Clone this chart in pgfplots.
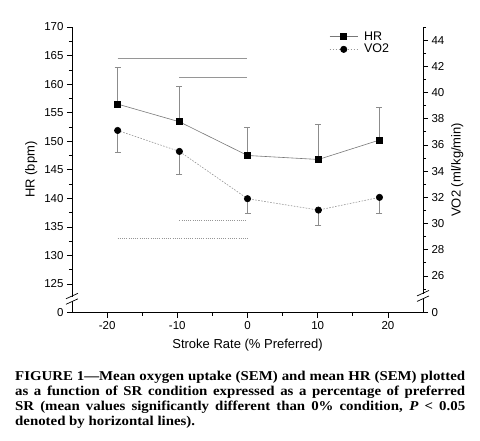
\documentclass[border=0pt]{standalone}
\usepackage{fontspec}
\setmainfont{Liberation Sans}
\newfontfamily\capfont[FakeStretch=1.1]{Liberation Serif}
\usepackage{pgfplots}
\pgfplotsset{compat=1.18}
\definecolor{linegray}{RGB}{120,120,120}
\definecolor{errgray}{RGB}{140,140,140}
\definecolor{siggray}{RGB}{150,150,150}
\pgfplotsset{
  hrstyle/.style={color=linegray, line width=0.6pt, mark=square*, mark size=3pt, mark options={solid, draw=black, fill=black}},
  vostyle/.style={color=siggray, line width=0.6pt, dash pattern=on 1.6pt off 1.4pt, mark=*, mark size=3.2pt, mark options={solid, draw=black, fill=black}},
  common/.style={
    scale only axis, width=351pt, height=285.5pt,
    at={(72pt,127.5pt)}, anchor=south west,
    xmin=-25, xmax=25,
    tick align=outside, major tick length=5pt, minor tick length=3pt,
    tick style={black, line width=0.6pt},
    axis line style={black, line width=0.8pt},
    tick label style={font=\fontsize{11.5}{13}\selectfont},
    label style={font=\fontsize{13}{15}\selectfont},
    /pgf/number format/assume math mode=true,
  }
}
\pgfplotstableread{
x y e
-18.5 156.5 6.5
-9.7 153.4 6.3
0 147.5 5.0
10.1 146.8 6.1
18.8 150.2 5.7
}\hrdata
\pgfplotstableread{
x y e
-18.5 37.1 1.68
-9.7 35.5 1.78
0 31.89 1.09
10.1 31.02 1.14
18.8 31.99 1.23
}\vodata
\begin{document}
\begin{tikzpicture}
\begin{axis}[common,
  ymin=120, ymax=170,
  axis y line*=left, axis x line*=bottom,
  xtick={-20,-10,0,10,20},
  minor xtick={-15,-5,5,15},
  ytick={120,125,130,135,140,145,150,155,160,165,170},
  yticklabels={0,125,130,135,140,145,150,155,160,165,170},
  minor ytick={127.5,132.5,137.5,142.5,147.5,152.5,157.5,162.5,167.5},
  xlabel={Stroke Rate (\% Preferred)},
  xlabel style={yshift=-3pt},
  ylabel={HR (bpm)},
  clip=false,
]
% significance lines
\addplot[siggray, line width=0.7pt] coordinates {(-18.5,164.5) (0,164.5)};
\addplot[siggray, line width=0.7pt] coordinates {(-9.7,161.1) (0,161.1)};
\addplot[siggray, line width=0.7pt, dash pattern=on 1pt off 1.2pt] coordinates {(-9.7,136.1) (0,136.1)};
\addplot[siggray, line width=0.7pt, dash pattern=on 1pt off 1.2pt] coordinates {(-18.5,133.0) (0,133.0)};
\addplot[hrstyle, error bars/.cd, y dir=plus, y explicit,
  error bar style={solid, errgray, line width=0.6pt},
  error mark options={rotate=90, errgray, mark size=3pt, line width=0.6pt}]
  table[x=x, y=y, y error=e] {\hrdata};
\coordinate (bl) at (axis cs:-25,122.4);
\coordinate (br) at (axis cs:25,122.9);
\end{axis}
\begin{axis}[common,
  ymin=23.2, ymax=45,
  axis y line*=right, axis x line=none,
  ytick={23.2,26,28,30,32,34,36,38,40,42,44},
  yticklabels={0,26,28,30,32,34,36,38,40,42,44},
  minor ytick={25,27,29,31,33,35,37,39,41,43,45},
  ylabel={VO2 (ml/kg/min)},
  legend style={draw=none, fill=none, at={(0.73,0.995)}, anchor=north west,
    font=\fontsize{12.5}{14}\selectfont, row sep=-1.5pt, column sep=4pt, inner sep=1pt,
    legend image code/.code={\draw[mark repeat=2,mark phase=2] plot coordinates {(0pt,0pt) (14pt,0pt) (28pt,0pt)};}},
  legend cell align=left,
]
\addlegendimage{hrstyle}
\addlegendentry{HR}
\addplot[vostyle, error bars/.cd, y dir=minus, y explicit,
  error bar style={solid, errgray, line width=0.6pt},
  error mark options={rotate=90, errgray, mark size=3pt, line width=0.6pt}]
  table[x=x, y=y, y error=e] {\vodata};
\addlegendentry{VO2}
\end{axis}
% axis break marks
\fill[white] ([shift={(-2pt,-2.2pt)}]bl) rectangle ([shift={(2pt,2.2pt)}]bl);
\draw[line width=0.7pt] ([shift={(-6pt,-5.5pt)}]bl) -- ([shift={(6pt,0pt)}]bl);
\draw[line width=0.7pt] ([shift={(-6pt,0pt)}]bl) -- ([shift={(6pt,5.5pt)}]bl);
\fill[white] ([shift={(-2pt,-2.2pt)}]br) rectangle ([shift={(2pt,2.2pt)}]br);
\draw[line width=0.7pt] ([shift={(-6pt,-5.5pt)}]br) -- ([shift={(6pt,0pt)}]br);
\draw[line width=0.7pt] ([shift={(-6pt,0pt)}]br) -- ([shift={(6pt,5.5pt)}]br);
% caption
\node[anchor=north west, inner sep=0pt, align=left,
  font={\capfont\bfseries\fontsize{13.5}{15}\selectfont}] at (15pt,69pt)
  {\makebox[450pt][s]{FIGURE 1—Mean oxygen uptake (SEM) and mean HR (SEM) plotted}\\
   \makebox[450pt][s]{as a function of SR condition expressed as a percentage of preferred}\\
   \makebox[450pt][s]{SR (mean values significantly different than 0\% condition, \textit{P} < 0.05}\\
   denoted by horizontal lines).};
\pgfresetboundingbox
\path[use as bounding box] (0,0) rectangle (480pt,440pt);
\end{tikzpicture}
\end{document}
